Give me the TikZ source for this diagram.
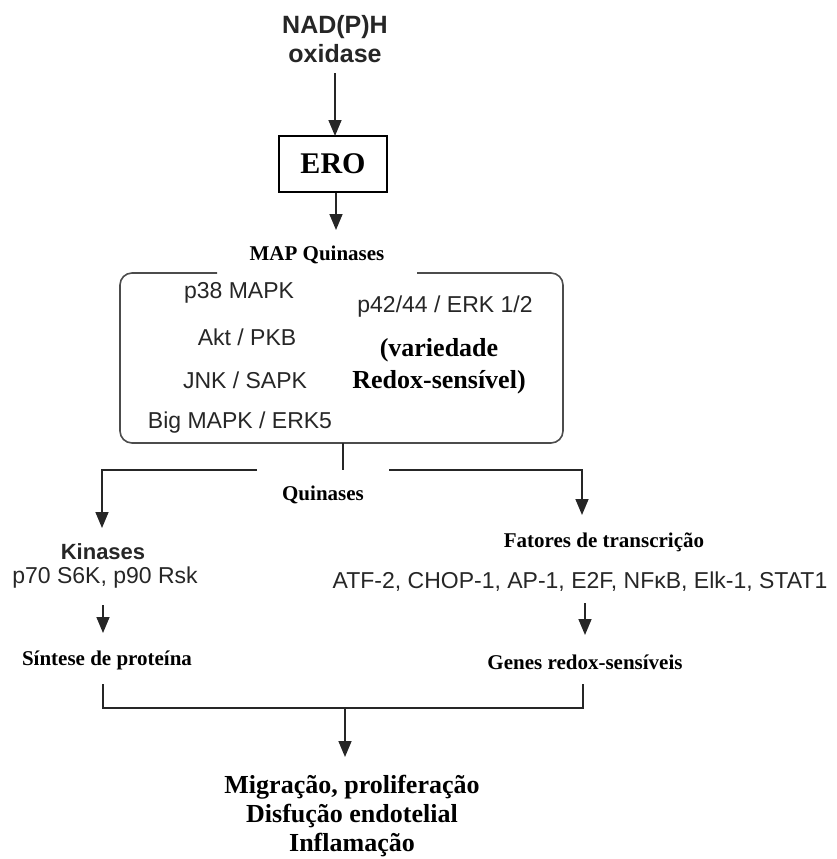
\documentclass[tikz,border=0pt]{standalone}
\usepackage{fontspec}
\setmainfont{Liberation Serif}
\setsansfont{Liberation Sans}
\usetikzlibrary{arrows.meta}
\tikzset{
  ln/.style={line width=1.6pt, black!85},
  arr/.style={ln, -{Triangle[width=13pt,length=16pt]}},
  sanstxt/.style={font=\sffamily\fontsize{23}{27}\selectfont, inner sep=2pt, text=black!85},
  sanshead/.style={font=\sffamily\bfseries\fontsize{25}{29}\selectfont, align=center, inner sep=2pt, text=black!85},
  sertxt/.style={font=\bfseries\fontsize{21}{25}\selectfont, inner sep=2pt},
  serbig/.style={font=\bfseries\fontsize{26}{29}\selectfont, align=center, inner sep=2pt},
  erobox/.style={draw, line width=1.6pt, font=\bfseries\fontsize{30}{34}\selectfont, minimum width=108pt, minimum height=56pt}
}

\begin{document}
\begin{tikzpicture}[x=1pt,y=-1pt]
   \useasboundingbox (0,0) rectangle (837,859);

   % top of the chain
   \node[sanshead] (nad)  at (335, 39) {NAD(P)H\\oxidase};
   \node[erobox]   (ero)  at (333,164) {ERO};
   \node[sertxt]   (mapq) at (317,255) {MAP Quinases};
   \coordinate (nadb) at (335, 73);
   \coordinate (erot) at (335,136);
   \coordinate (mapt) at (336,230);
   \draw[arr] (nadb) -- (erot);
   \draw[arr] (ero.south -| mapt) -- (mapt);

   % MAP kinase frame
   \draw[ln, black!70, rounded corners=12pt]
     (217,273) -- (120,273) -- (120,443) -- (563,443) -- (563,273) -- (417,273);
   \node[sanstxt] (p38) at (239,293) {p38 MAPK};
   \node[sanstxt] (akt) at (247,337) {Akt / PKB};
   \node[sanstxt] (jnk) at (245,380) {JNK / SAPK};
   \node[sanstxt] (big) at (240,423) {Big MAPK / ERK5};
   \node[sanstxt] (p42) at (445,307) {p42/44 / ERK 1/2};
   \node[font=\bfseries\fontsize{26}{32}\selectfont, align=center, inner sep=2pt]
        (redox) at (439,366) {(variedade\\Redox-sensível)};

   % split into two branches
   \coordinate (boxb) at (343,443);
   \coordinate (sp)   at (343,470);
   \coordinate (spl)  at (102,470);
   \coordinate (spr)  at (582,470);
   \coordinate (gapl) at (257,470);
   \coordinate (gapr) at (389,470);
   \coordinate (kint) at (102,528);
   \coordinate (fatt) at (582,515);
   \draw[ln] (boxb) -- (sp);
   \draw[arr] (gapl) -- (spl) -- (kint);
   \draw[arr] (gapr) -- (spr) -- (fatt);
   \node[sertxt] (quin) at (323,495) {Quinases};

   % left branch
   \node[sanstxt, font=\sffamily\bfseries\fontsize{22}{26}\selectfont] (kin) at (103,552) {Kinases};
   \node[sanstxt] (p70)  at (105,578) {p70 S6K, p90 Rsk};
   \node[sertxt]  (sint) at (107,660) {Síntese de proteína};
   \coordinate (p70b) at (103,605);
   \coordinate (sintt) at (103,633);
   \draw[arr] (p70b) -- (sintt);

   % right branch
   \node[sertxt]  (fat)   at (604,542) {Fatores de transcrição};
   \node[sanstxt] (atf)   at (580,582) {ATF-2, CHOP-1, AP-1, E2F, NFκB, Elk-1, STAT1};
   \node[sertxt]  (genes) at (585,662) {Genes redox-sensíveis};
   \coordinate (atfb)   at (585,603);
   \coordinate (genest) at (585,635);
   \draw[arr] (atfb) -- (genest);

   % merge
   \coordinate (ml)  at (103,684);
   \coordinate (mr)  at (583,684);
   \coordinate (mlb) at (103,708);
   \coordinate (mrb) at (583,708);
   \coordinate (mm)  at (345,708);
   \coordinate (rest) at (345,757);
   \draw[ln] (ml) -- (mlb) -- (mrb) -- (mr);
   \draw[arr] (mm) -- (rest);
   \node[serbig] (res) at (352,816) {Migração, proliferação\\Disfução endotelial\\Inflamação};
\end{tikzpicture}
\end{document}
